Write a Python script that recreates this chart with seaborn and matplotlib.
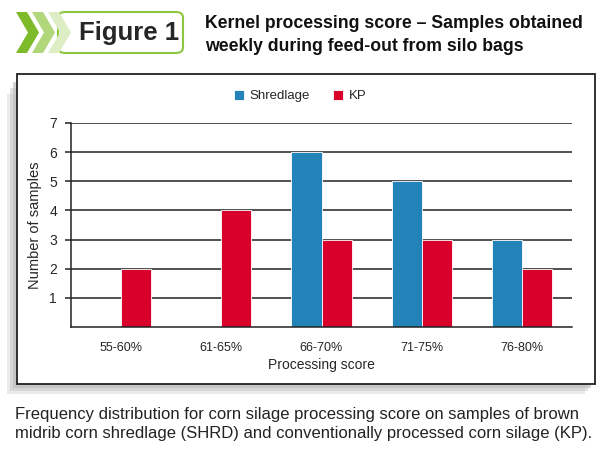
import pandas as pd
import matplotlib
matplotlib.use("Agg")
import matplotlib.pyplot as plt
import matplotlib.patches as mpatches
import seaborn as sns

# Data
score_bins = ["55-60%", "61-65%", "66-70%", "71-75%", "76-80%"]
shredlage = [0, 0, 6, 5, 3]
kp = [2, 4, 3, 3, 2]
series_names = ["Shredlage", "KP"]
y_ticks = [1, 2, 3, 4, 5, 6, 7]

title_text = "Kernel processing score \u2013 Samples obtained\nweekly during feed-out from silo bags"
caption_text = ("Frequency distribution for corn silage processing score on samples of brown\n"
                "midrib corn shredlage (SHRD) and conventionally processed corn silage (KP).")

BLUE = "#2183B8"
RED = "#D9002B"

W, H = 610, 465


def fx(px):
    return px / W


def fy(py):
    return 1 - py / H


sns.set_style("white")
plt.rcParams['font.family'] = ['Liberation Sans', 'DejaVu Sans']

df = pd.DataFrame({
    "bin": score_bins * 2,
    "count": shredlage + kp,
    "series": [series_names[0]] * len(score_bins) + [series_names[1]] * len(score_bins),
})

fig = plt.figure(figsize=(6.1, 4.65), dpi=100)

# panel shadow and frame
for off, alpha in [(10, 0.3), (7, 0.45), (4, 0.65)]:
    fig.add_artist(mpatches.Rectangle((fx(17 - off), fy(384 + off)), fx(578), fy(74 + off) - fy(384),
                                      transform=fig.transFigure, facecolor="#BDBDBD",
                                      edgecolor="none", alpha=alpha, zorder=0))
fig.add_artist(mpatches.Rectangle((fx(17), fy(384)), fx(578), fy(74) - fy(384),
                                  transform=fig.transFigure, facecolor="white",
                                  edgecolor="#222222", linewidth=1.3, zorder=1))

# "Figure 1" badge
fig.add_artist(mpatches.FancyBboxPatch((fx(58), fy(53)), fx(125), fy(12) - fy(53),
                                       boxstyle="round,pad=0,rounding_size=0.012",
                                       transform=fig.transFigure, facecolor="white",
                                       edgecolor="#8DC63F", linewidth=1.5, zorder=2))
chevrons = [(48, "#DDEDC4"), (32, "#B2D77A"), (16, "#7DBB2A")]
for x0, col in chevrons:
    pts = [(x0, 12), (x0 + 11, 12), (x0 + 23, 32.5), (x0 + 11, 53), (x0, 53), (x0 + 12, 32.5)]
    fig.add_artist(mpatches.Polygon([(fx(a), fy(b)) for a, b in pts], closed=True,
                                    transform=fig.transFigure, facecolor=col,
                                    edgecolor="none", zorder=3))
fig.text(fx(129), fy(33), "Figure 1", ha="center", va="center", fontsize=18.5,
         fontweight="bold", zorder=4)

fig.text(fx(205), fy(35), title_text, ha="left", va="center", fontsize=12.7,
         fontweight="bold", linespacing=1.4, color="#111111")

fig.text(fx(15), fy(424), caption_text, ha="left", va="center", fontsize=12.0,
         linespacing=1.4, color="#222222")

# chart
ax = fig.add_axes([fx(71), fy(327), fx(572) - fx(71), fy(123) - fy(327)])
ax.set_zorder(5)
sns.barplot(data=df, x="bin", y="count", hue="series", palette=[BLUE, RED],
            width=0.6, edgecolor="white", linewidth=0.6, ax=ax, saturation=1)

ax.set_xlim(-0.5, len(score_bins) - 0.5)
ax.set_ylim(0, 7)
ax.set_yticks(y_ticks)
ax.yaxis.grid(True, color="#222222", linewidth=1.1)
ax.set_axisbelow(True)
ax.patch.set_alpha(0)
for side in ["top", "right"]:
    ax.spines[side].set_visible(False)
for side in ["left", "bottom"]:
    ax.spines[side].set_color("#222222")
    ax.spines[side].set_linewidth(1.1)

ax.set_xticks([i - 0.5 for i in range(len(score_bins) + 1)], minor=True)
ax.tick_params(axis="x", which="major", length=0, pad=11, labelsize=9)
ax.tick_params(axis="x", which="minor", length=4, width=1.1, color="#222222", direction="out")
ax.tick_params(axis="y", length=4, width=1.1, color="#222222", direction="out", labelsize=10, pad=6, left=True)

ax.set_xlabel("Processing score", fontsize=10, labelpad=3)
ax.set_ylabel("Number of samples", fontsize=10.5, labelpad=5)

handles, labels = ax.get_legend_handles_labels()
ax.legend(handles, labels, loc="center", bbox_to_anchor=(fx(300), fy(96)),
          bbox_transform=fig.transFigure, ncol=2, frameon=False, fontsize=9.5,
          handlelength=0.8, handleheight=0.8, handletextpad=0.4, columnspacing=1.75)

fig.savefig("out.png", dpi=100)
